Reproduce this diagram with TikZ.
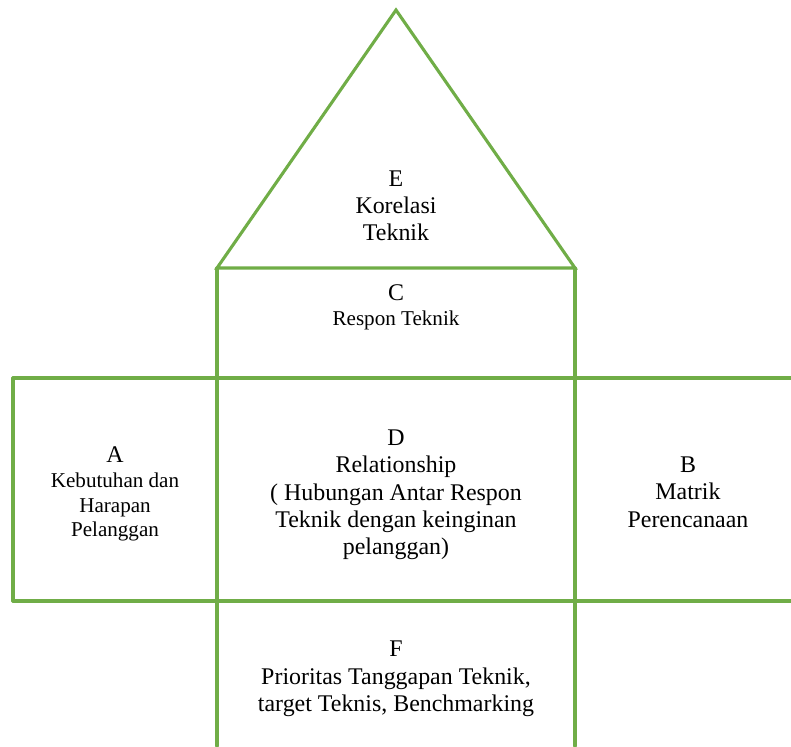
\documentclass[tikz,border=0pt]{standalone}
\usepackage{fontspec}
\setmainfont{Liberation Serif}
\usepackage{tikz}
\usetikzlibrary{positioning}
\definecolor{hqgreen}{RGB}{112,173,71}
\tikzset{wall/.style={ % lines of the house
			draw=hqgreen,
			line width=2.2pt,
			line cap=round,
			line join=miter},
		roomtext/.style={ % text inside a room
			align=center,
			font=\rmfamily\fontsize{17pt}{19.4pt}\selectfont},
		smallroomtext/.style={
			align=center,
			font=\rmfamily\fontsize{15pt}{17.6pt}\selectfont}}

\begin{document}
\begin{tikzpicture}[x=0.025cm,y=-0.025cm]
			\useasboundingbox (0,0) rectangle (791,746);
			% corners of the house
			\coordinate (top) at (396,10);
			\coordinate (rl) at (217,268);
			\coordinate (rr) at (575,268);
			\coordinate (ml) at (13,378);
			\coordinate (mr) at (791,378);
			\coordinate (bl) at (13,601);
			\coordinate (br) at (791,601);
			
			\draw[wall] (rl) -- (top) -- (rr) -- cycle;
			\draw[wall] (ml) -- (mr);
			\draw[wall] (bl) -- (br);
			\draw[wall] (ml) -- (bl);
			\draw[wall] (rl) -- (217,746);
			\draw[wall] (rr) -- (575,746);
			
			\node[roomtext] (E) at (396,206) {E\\ Korelasi\\ Teknik};
			\node[smallroomtext] (C) at (396,307) {{\fontsize{17pt}{19.4pt}\selectfont C}\\ Respon Teknik};
			\node[smallroomtext] (A) at (115,494) {{\fontsize{17pt}{19.4pt}\selectfont A}\\ Kebutuhan dan\\ Harapan\\ Pelanggan};
			\node[roomtext] (D) at (396,495) {D\\ Relationship\\ ( Hubungan Antar Respon\\ Teknik dengan keinginan\\ pelanggan)};
			\node[roomtext] (B) at (688,492) {B\\ Matrik\\ Perencanaan};
			\node[roomtext] (F) at (396,679) {F\\ Prioritas Tanggapan Teknik,\\ target Teknis, Benchmarking};
		\end{tikzpicture}
\end{document}
